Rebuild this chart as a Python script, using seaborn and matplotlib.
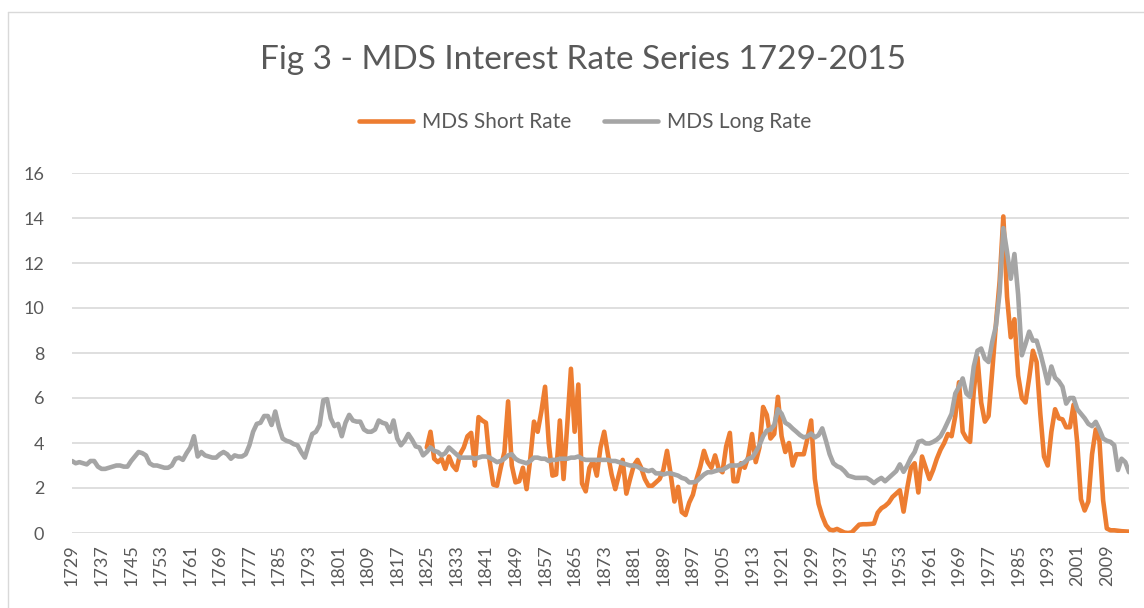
import numpy as np
import matplotlib
matplotlib.use("Agg")
import matplotlib.pyplot as plt
import seaborn as sns

# long rate, one value per year from 1729
long_start = 1729
long_rate = [
    3.2, 3.1, 3.15, 3.1, 3.05, 3.2, 3.2, 2.95, 2.85, 2.85,
    2.9, 2.95, 3.0, 3.0, 2.95, 2.95, 3.2, 3.4, 3.6, 3.55,
    3.45, 3.1, 3.0, 3.0, 2.95, 2.9, 2.9, 3.0, 3.3, 3.35,
    3.25, 3.55, 3.8, 4.3, 3.4, 3.6, 3.45, 3.4, 3.35, 3.35,
    3.5, 3.6, 3.5, 3.3, 3.45, 3.4, 3.4, 3.5, 3.9, 4.5,
    4.85, 4.9, 5.2, 5.2, 4.8, 5.4, 4.7, 4.2, 4.1, 4.05,
    3.95, 3.9, 3.6, 3.35, 3.9, 4.4, 4.5, 4.8, 5.9, 5.95,
    5.1, 4.75, 4.85, 4.3, 4.9, 5.25, 5.0, 4.95, 4.95, 4.6,
    4.5, 4.5, 4.6, 5.0, 4.9, 4.85, 4.5, 5.0, 4.2, 3.9,
    4.1, 4.4, 4.15, 3.85, 3.8, 3.45, 3.6, 3.8, 3.65, 3.6,
    3.45, 3.55, 3.8, 3.65, 3.5, 3.35, 3.35, 3.35, 3.35, 3.3,
    3.35, 3.4, 3.4, 3.35, 3.25, 3.15, 3.2, 3.3, 3.45, 3.5,
    3.3, 3.2, 3.15, 3.1, 3.2, 3.35, 3.35, 3.3, 3.3, 3.2,
    3.25, 3.25, 3.3, 3.3, 3.3, 3.35, 3.35, 3.4, 3.3, 3.25,
    3.25, 3.25, 3.25, 3.25, 3.25, 3.25, 3.2, 3.2, 3.15, 3.1,
    3.05, 3.0, 3.0, 2.95, 2.85, 2.8, 2.75, 2.8, 2.65, 2.65,
    2.6, 2.65, 2.65, 2.6, 2.55, 2.45, 2.4, 2.25, 2.25, 2.3,
    2.45, 2.6, 2.7, 2.7, 2.75, 2.8, 2.8, 2.9, 3.0, 3.0,
    3.0, 3.05, 3.15, 3.3, 3.35, 3.6, 3.9, 4.3, 4.55, 4.6,
    4.8, 5.5, 5.3, 4.9, 4.8, 4.64, 4.5, 4.35, 4.25, 4.3,
    4.42, 4.25, 4.35, 4.65, 4.1, 3.5, 3.1, 2.97, 2.9, 2.75,
    2.55, 2.5, 2.45, 2.45, 2.45, 2.45, 2.35, 2.22, 2.35, 2.45,
    2.3, 2.45, 2.6, 2.75, 3.05, 2.72, 3.0, 3.35, 3.6, 4.05,
    4.1, 3.98, 3.98, 4.05, 4.15, 4.3, 4.6, 4.95, 5.3, 6.2,
    6.5, 6.87, 6.2, 6.05, 7.4, 8.1, 8.2, 7.75, 7.6, 8.5,
    9.2, 10.7, 13.55, 12.5, 11.3, 12.4, 10.6, 7.9, 8.4, 8.95,
    8.55, 8.55, 8.0, 7.35, 6.65, 7.4, 6.9, 6.75, 6.5, 5.75,
    6.0, 6.0, 5.5, 5.3, 5.1, 4.85, 4.75, 4.94, 4.6, 4.2,
    4.1, 4.05, 3.9, 2.8, 3.3, 3.15, 2.7,
]

# short rate, one value per year from 1825
short_start = 1825
short_rate = [
    3.8, 4.5, 3.3, 3.15, 3.3, 2.85, 3.4, 3.0, 2.8, 3.5,
    3.8, 4.3, 4.45, 3.0, 5.15, 5.0, 4.9, 3.2, 2.15, 2.1,
    2.9, 3.6, 5.85, 3.0, 2.25, 2.3, 2.9, 1.95, 3.3, 4.95,
    4.5, 5.4, 6.5, 4.0, 2.55, 2.6, 5.0, 2.4, 4.8, 7.3,
    4.5, 6.6, 2.2, 1.85, 2.9, 3.2, 2.55, 3.8, 4.5, 3.5,
    2.6, 1.95, 2.6, 3.25, 1.75, 2.4, 3.0, 3.25, 2.9, 2.4,
    2.1, 2.1, 2.25, 2.4, 2.8, 3.65, 2.6, 1.4, 2.05, 0.93,
    0.8, 1.35, 1.7, 2.4, 2.95, 3.65, 3.15, 2.9, 3.45, 2.85,
    2.7, 3.85, 4.45, 2.3, 2.3, 3.1, 2.9, 3.4, 4.4, 3.15,
    3.8, 5.6, 5.25, 4.2, 4.4, 6.05, 4.3, 3.6, 4.0, 3.0,
    3.5, 3.5, 3.5, 4.2, 5.0, 2.4, 1.3, 0.75, 0.35, 0.15,
    0.12, 0.18, 0.1, 0.02, 0.0, 0.03, 0.2, 0.37, 0.39, 0.39,
    0.4, 0.42, 0.9, 1.1, 1.2, 1.35, 1.6, 1.75, 1.9, 0.95,
    2.0, 2.9, 3.1, 1.8, 3.4, 2.9, 2.4, 2.8, 3.3, 3.7,
    4.0, 4.4, 4.3, 5.2, 6.7, 4.5, 4.2, 4.05, 6.3, 7.8,
    5.8, 4.95, 5.2, 7.2, 9.3, 11.2, 14.07, 10.5, 8.7, 9.5,
    7.0, 6.0, 5.8, 6.9, 8.1, 7.6, 5.3, 3.4, 3.0, 4.5,
    5.5, 5.1, 5.05, 4.7, 4.7, 5.7, 4.0, 1.5, 1.0, 1.4,
    3.5, 4.6, 4.1, 1.45, 0.2, 0.12, 0.12, 0.1, 0.08, 0.07,
    0.06,
]

x_ticks = list(range(1729, 2015, 8))
y_ticks = list(range(0, 17, 2))

long_years = np.arange(long_start, long_start + len(long_rate))
short_years = np.arange(short_start, short_start + len(short_rate))

sns.set_style("white")
plt.rcParams['font.family'] = ['Lato', 'DejaVu Sans']

W, H = 1144, 608
fig = plt.figure(figsize=(W / 100, H / 100), dpi=100)
ax = fig.add_axes([72 / W, (H - 533) / H, (1129 - 72) / W, 360 / H])

sns.lineplot(x=short_years, y=short_rate, color="#ED7D31", linewidth=3.3,
             solid_joinstyle="round", solid_capstyle="round",
             label="MDS Short Rate", ax=ax)
sns.lineplot(x=long_years, y=long_rate, color="#A5A5A5", linewidth=3.3,
             solid_joinstyle="round", solid_capstyle="round",
             label="MDS Long Rate", ax=ax)

ax.set_xlim(1729, 2015)
ax.set_ylim(0, 16)
ax.set_yticks(y_ticks)
ax.set_xticks(x_ticks)
ax.set_xticklabels([str(y) for y in x_ticks], rotation=90)
ax.set_xlabel("")
ax.set_ylabel("")
ax.grid(axis="y", color="#d9d9d9", linewidth=1.2)
ax.grid(axis="x", visible=False)
ax.set_axisbelow(True)
for s in ax.spines.values():
    s.set_visible(False)
ax.tick_params(length=0, colors="#595959", labelsize=13)
ax.tick_params(axis="y", pad=20)
ax.tick_params(axis="x", pad=8)

handles, labels = ax.get_legend_handles_labels()
ax.legend_.remove()
fig.legend(handles, labels, loc="center", bbox_to_anchor=(585 / W, 1 - 122 / H),
           ncol=2, frameon=False, fontsize=15, handlelength=2.6,
           columnspacing=1.6, handletextpad=0.4, labelcolor="#595959")

fig.text(583 / W, 1 - 60 / H, "Fig 3 - MDS Interest Rate Series 1729-2015",
         ha="center", va="center", fontsize=24, color="#595959")

# chart frame
fig.add_artist(plt.Line2D([8 / W, 8 / W], [0, 1 - 12 / H],
                          transform=fig.transFigure, color="#d9d9d9", lw=1))
fig.add_artist(plt.Line2D([8 / W, 1], [1 - 12 / H, 1 - 12 / H],
                          transform=fig.transFigure, color="#d9d9d9", lw=1))

fig.savefig("out.png", dpi=100)
